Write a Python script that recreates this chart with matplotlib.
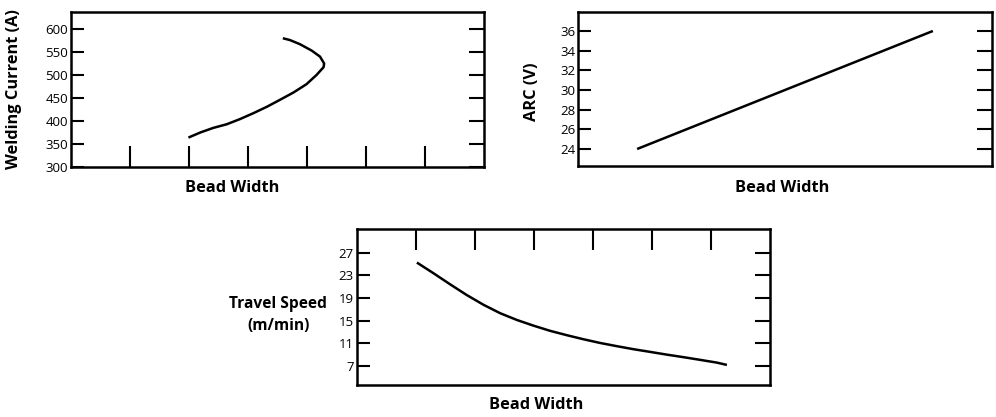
import matplotlib
matplotlib.use('Agg')
import matplotlib.pyplot as plt

plt.rcParams['font.family'] = ['Open Sans', 'DejaVu Sans']

# welding current vs bead width (curve bends back)
current_x = [1.99, 2.19, 2.41, 2.64, 2.86, 3.09, 3.32, 3.54, 3.77, 3.99, 4.16,
             4.28, 4.29, 4.22, 4.08, 3.88, 3.71, 3.59]
current_y = [364, 375, 385, 393, 404, 417, 431, 446, 462, 480, 500,
             517, 525, 540, 553, 567, 576, 580]
current_ticks = [300, 350, 400, 450, 500, 550, 600]

# arc voltage vs bead width
arc_x = [1.0, 6.0]
arc_y = [24, 36]
arc_ticks = [24, 26, 28, 30, 32, 34, 36]

# travel speed vs bead width
speed_x = [1.02, 1.30, 1.58, 1.86, 2.15, 2.43, 2.71, 2.99, 3.28, 3.56, 3.84,
           4.12, 4.41, 4.69, 4.97, 5.25, 5.54, 5.82, 6.10, 6.27]
speed_y = [25.24, 23.36, 21.42, 19.54, 17.78, 16.31, 15.13, 14.13, 13.19,
           12.43, 11.72, 11.07, 10.49, 9.96, 9.49, 9.01, 8.55, 8.08, 7.60, 7.19]
speed_ticks = [7, 11, 15, 19, 23, 27]

width_ticks = [1, 2, 3, 4, 5, 6]

LW = 1.8
fig = plt.figure(figsize=(9.96, 4.17), dpi=100)


def style_axis(ax, yticks, xtick_side=None):
    for s in ax.spines.values():
        s.set_linewidth(LW)
    ax.set_yticks(yticks)
    ax.tick_params(axis='y', direction='in', length=9, width=1.5, pad=2,
                   labelsize=9.5, right=True)
    # right-hand ticks are a bit longer
    for t in ax.yaxis.get_major_ticks():
        t.tick2line.set_markersize(10.5)
    if xtick_side == 'bottom':
        ax.set_xticks(width_ticks)
        ax.tick_params(axis='x', direction='in', length=15, width=1.5,
                       labelbottom=False, bottom=True, top=False)
    elif xtick_side == 'top':
        ax.set_xticks(width_ticks)
        ax.tick_params(axis='x', direction='in', length=15, width=1.5,
                       labelbottom=False, bottom=False, top=True)
    else:
        ax.set_xticks([])


# panel 1
ax1 = fig.add_axes([0.0713, 0.5995, 0.4147, 0.3717])
ax1.plot(current_x, current_y, color='black', lw=LW, solid_capstyle='butt')
ax1.set_xlim(0, 7)
ax1.set_ylim(300, 637)
style_axis(ax1, current_ticks, 'bottom')
ax1.text(0.39, -0.135, 'Bead Width', transform=ax1.transAxes, ha='center',
         va='center', fontsize=11.8, fontweight='bold')
ax1.text(-0.138, 0.5, 'Welding Current (A)', transform=ax1.transAxes,
         ha='center', va='center', rotation=90, fontsize=11.8, fontweight='bold')

# panel 2
ax2 = fig.add_axes([0.5803, 0.6019, 0.4157, 0.3693])
ax2.plot(arc_x, arc_y, color='black', lw=LW, solid_capstyle='butt')
ax2.set_xlim(0, 7)
ax2.set_ylim(22.27, 37.93)
style_axis(ax2, arc_ticks)
ax2.text(0.493, -0.143, 'Bead Width', transform=ax2.transAxes, ha='center',
         va='center', fontsize=11.8, fontweight='bold')
ax2.text(-0.111, 0.48, 'ARC (V)', transform=ax2.transAxes,
         ha='center', va='center', rotation=90, fontsize=11.8, fontweight='bold')

# panel 3
ax3 = fig.add_axes([0.3581, 0.0767, 0.415, 0.3734])
ax3.plot(speed_x, speed_y, color='black', lw=LW, solid_capstyle='butt')
ax3.set_xlim(0, 7)
ax3.set_ylim(3.65, 31.1)
style_axis(ax3, speed_ticks, 'top')
ax3.text(0.434, -0.128, 'Bead Width', transform=ax3.transAxes, ha='center',
         va='center', fontsize=11.8, fontweight='bold')
ax3.text(-0.19, 0.45, 'Travel Speed\n(m/min)', transform=ax3.transAxes,
         ha='center', va='center', fontsize=11.2, fontweight='bold',
         linespacing=1.55)

fig.savefig('out.png', dpi=100)
